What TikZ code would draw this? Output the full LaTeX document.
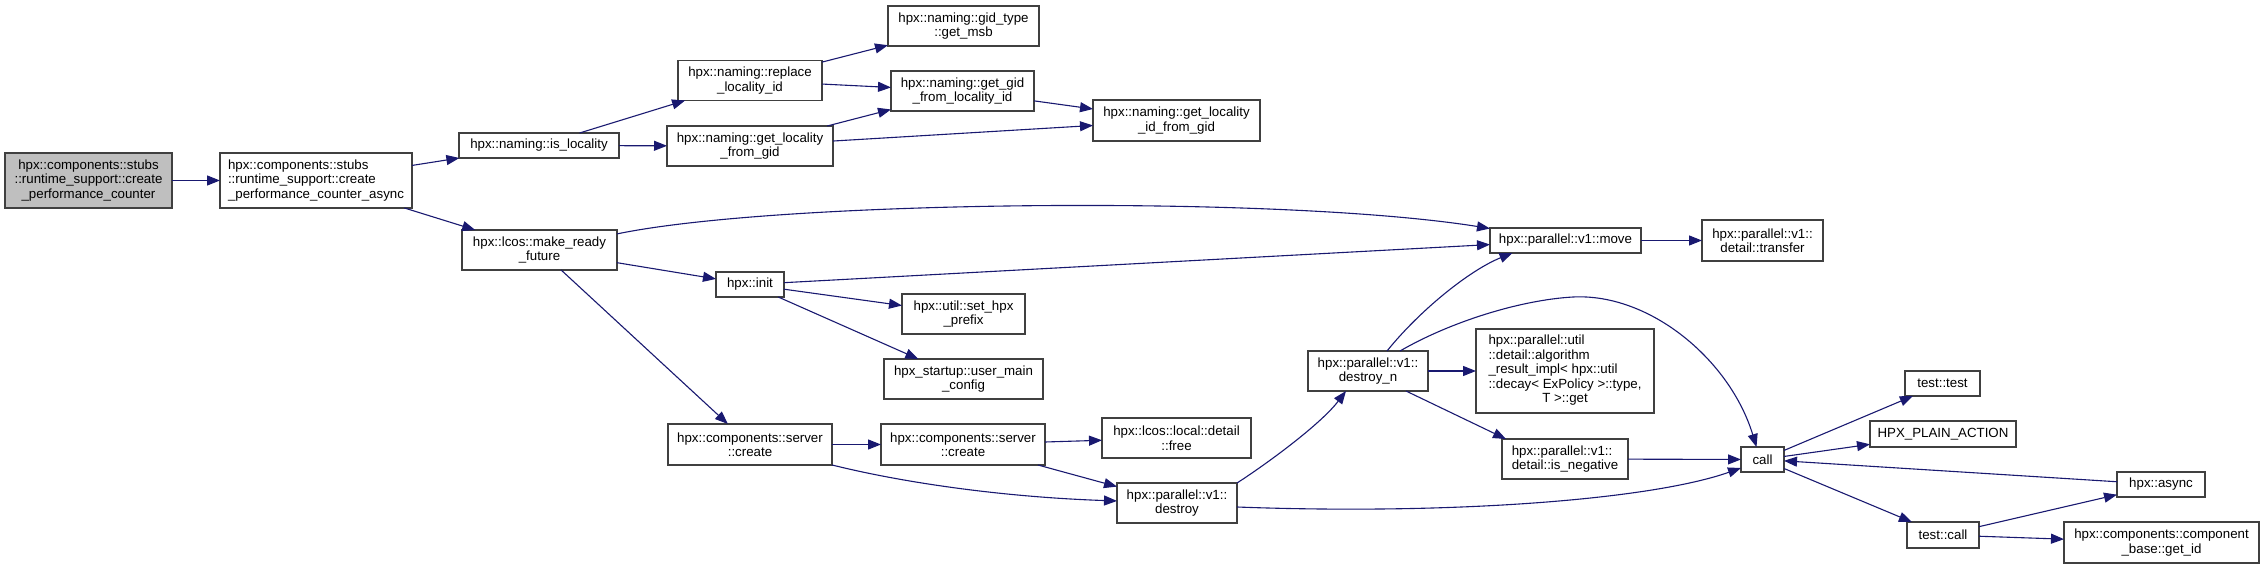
\documentclass[tikz,border=0pt]{standalone}
\usepackage{fontspec}
\setmainfont{Liberation Sans}
\usetikzlibrary{arrows.meta}
\definecolor{edgec}{RGB}{25,25,112}
\definecolor{bordc}{RGB}{64,64,64}
\definecolor{selc}{RGB}{191,191,191}
\tikzset{
  fn/.style={draw=bordc, line width=1.2pt, fill=white, inner sep=0pt, outer sep=0pt,
    align=center, font=\fontsize{13.3}{14.5}\selectfont, text=black},
  conn/.style={draw=edgec, line width=1.1pt, -{Triangle[length=13pt,width=10pt]}},
}
\begin{document}
\begin{tikzpicture}[x=1pt,y=-1pt]
\useasboundingbox (0,0) rectangle (2264,569);
% nodes
\node[fn, fill=selc, minimum width=167pt, minimum height=55pt] (A) at (88.5,180.5) {hpx::components::stubs\\::runtime\_support::create\\\_performance\_counter};
\node[fn, align=left, minimum width=192pt, minimum height=55pt] (B) at (316,180.5) {hpx::components::stubs\\::runtime\_support::create\\\_performance\_counter\_async};
\node[fn, minimum width=160pt, minimum height=25pt] (isloc) at (539,145.5) {hpx::naming::is\_locality};
\node[fn, minimum width=144pt, minimum height=40pt] (repl) at (750,80.5) {hpx::naming::replace\\\_locality\_id};
\node[fn, minimum width=166pt, minimum height=40pt] (glfg) at (750,146) {hpx::naming::get\_locality\\\_from\_gid};
\node[fn, minimum width=151pt, minimum height=40pt] (msb) at (963.5,26) {hpx::naming::gid\_type\\::get\_msb};
\node[fn, minimum width=143pt, minimum height=40pt] (ggfli) at (962.5,91) {hpx::naming::get\_gid\\\_from\_locality\_id};
\node[fn, minimum width=167pt, minimum height=41pt] (glifg) at (1176.5,120.5) {hpx::naming::get\_locality\\\_id\_from\_gid};
\node[fn, minimum width=155pt, minimum height=40pt] (mrf) at (539.5,250) {hpx::lcos::make\_ready\\\_future};
\node[fn, minimum width=68pt, minimum height=25pt] (init) at (750,284.5) {hpx::init};
\node[fn, minimum width=123pt, minimum height=40pt] (prefix) at (963.5,314) {hpx::util::set\_hpx\\\_prefix};
\node[fn, minimum width=159pt, minimum height=40pt] (umc) at (963.5,379) {hpx\_startup::user\_main\\\_config};
\node[fn, minimum width=164pt, minimum height=41pt] (create1) at (750,444.5) {hpx::components::server\\::create};
\node[fn, minimum width=164pt, minimum height=41pt] (create2) at (963,444.5) {hpx::components::server\\::create};
\node[fn, minimum width=149pt, minimum height=40pt] (free) at (1176.5,438) {hpx::lcos::local::detail\\::free};
\node[fn, minimum width=120pt, minimum height=40pt] (destroy) at (1177,503) {hpx::parallel::v1::\\destroy};
\node[fn, minimum width=120pt, minimum height=40pt] (dn) at (1368,371) {hpx::parallel::v1::\\destroy\_n};
\node[fn, minimum width=151pt, minimum height=25pt] (move) at (1565.5,240.5) {hpx::parallel::v1::move};
\node[fn, minimum width=121pt, minimum height=41pt] (transfer) at (1762.5,240.5) {hpx::parallel::v1::\\detail::transfer};
\node[fn, minimum width=178pt, minimum height=84pt] (algo) at (1565,371) {\begin{tabular}{@{}l@{}}hpx::parallel::util\\::detail::algorithm\\\_result\_impl< hpx::util\\::decay< ExPolicy >::type,\\\multicolumn{1}{@{}c@{}}{T >::get}\end{tabular}};
\node[fn, align=left, minimum width=126pt, minimum height=40pt] (isneg) at (1565,459) {hpx::parallel::v1::\\detail::is\_negative};
\node[fn, minimum width=43pt, minimum height=25pt] (call) at (1762.5,459.5) {call};
\node[fn, minimum width=75pt, minimum height=25pt] (ttest) at (1942.5,383.5) {test::test};
\node[fn, minimum width=146pt, minimum height=26pt] (hpa) at (1943,434) {HPX\_PLAIN\_ACTION};
\node[fn, minimum width=88pt, minimum height=25pt] (async) at (2161,484.5) {hpx::async};
\node[fn, minimum width=72pt, minimum height=26pt] (tcall) at (1943,535) {test::call};
\node[fn, minimum width=195pt, minimum height=41pt] (cbase) at (2161.5,542.5) {hpx::components::component\\\_base::get\_id};
\coordinate (peak) at (1573,297);
% connectors
\draw[conn] (A) -- (B);
\draw[conn] (B) -- (isloc);
\draw[conn] (B) -- (mrf);
\draw[conn] (isloc) -- (repl);
\draw[conn] (isloc) -- (glfg);
\draw[conn] (repl) -- (msb);
\draw[conn] (repl) -- (ggfli);
\draw[conn] (glfg) -- (ggfli);
\draw[conn] (glfg) -- (glifg);
\draw[conn] (ggfli) -- (glifg);
\draw[conn] (mrf) .. controls (780,200) and (1280,195) .. (move);
\draw[conn] (mrf) -- (init);
\draw[conn] (mrf) -- (create1);
\draw[conn] (init) -- (move);
\draw[conn] (init) -- (prefix);
\draw[conn] (init) -- (umc);
\draw[conn] (create1) -- (create2);
\draw[conn] (create1) .. controls (900,482) and (1000,497) .. (destroy);
\draw[conn] (create2) -- (free);
\draw[conn] (create2) -- (destroy);
\draw[conn] (destroy.north east) .. controls (1265,465) and (1320,425) .. ([xshift=-22pt]dn.south);
\draw[conn] ([yshift=-4pt]destroy.east) .. controls (1450,515) and (1650,500) .. ([yshift=4pt]call.south west);
\draw[conn] ([xshift=19pt]dn.north) .. controls (1420,310) and (1470,270) .. ([xshift=-53pt]move.south);
\draw[conn] ([xshift=32pt]dn.north) .. controls (1450,322) and (1520,300) .. (peak) .. controls (1650,293) and (1730,360) .. ([xshift=-6pt]call.north);
\draw[conn] (dn) -- (algo);
\draw[conn] ([xshift=38pt]dn.south) -- ([xshift=-59pt]isneg.north);
\draw[conn] (isneg) -- (call);
\draw[conn] (move) -- (transfer);
\draw[conn] (call) -- (ttest);
\draw[conn] (call) -- (hpa);
\draw[conn] (async) -- (call);
\draw[conn] (call) -- (tcall);
\draw[conn] (tcall) -- (async);
\draw[conn] (tcall) -- (cbase);
\end{tikzpicture}
\end{document}
